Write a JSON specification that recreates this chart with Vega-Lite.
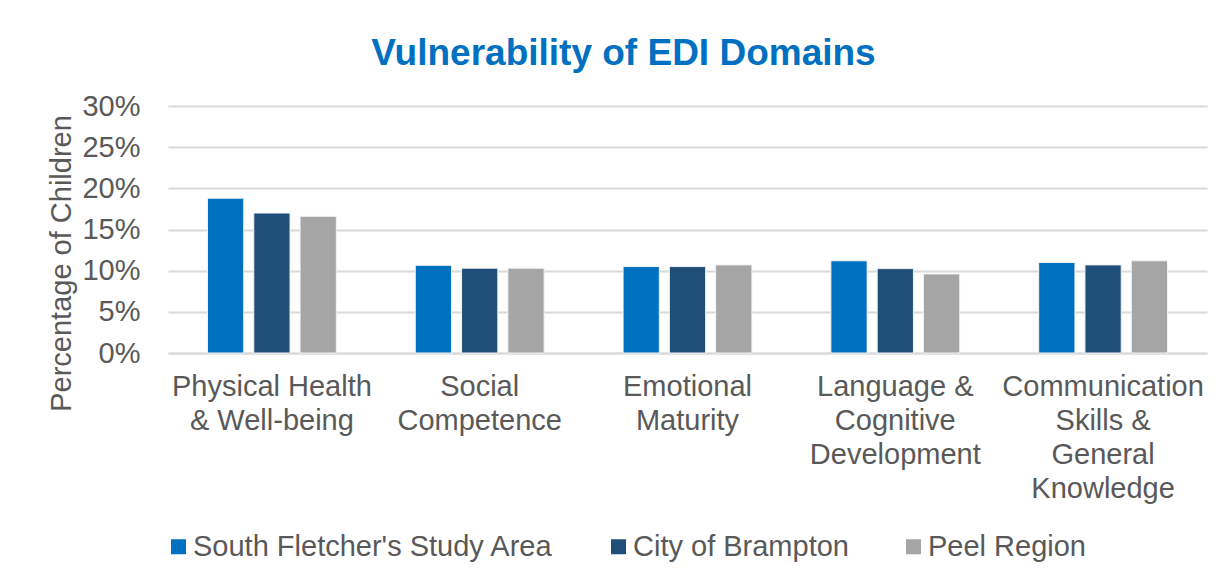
{
  "$schema": "https://vega.github.io/schema/vega-lite/v6.json",
  "width": 1039,
  "height": 247,
  "autosize": "none",
  "padding": {"left": 168, "top": 106, "right": 19, "bottom": 232},
  "background": "white",
  "title": {
    "text": "Vulnerability of EDI Domains",
    "font": "Liberation Sans",
    "fontSize": 37,
    "fontWeight": "bold",
    "color": "#0070C0",
    "anchor": "middle",
    "dx": -64,
    "offset": 19
  },
  "data": {
    "values": [
      {"domain": "Physical Health|& Well-being", "series": "South Fletcher's Study Area", "value": 0.188},
      {"domain": "Physical Health|& Well-being", "series": "City of Brampton", "value": 0.170},
      {"domain": "Physical Health|& Well-being", "series": "Peel Region", "value": 0.166},
      {"domain": "Social|Competence", "series": "South Fletcher's Study Area", "value": 0.1065},
      {"domain": "Social|Competence", "series": "City of Brampton", "value": 0.103},
      {"domain": "Social|Competence", "series": "Peel Region", "value": 0.103},
      {"domain": "Emotional|Maturity", "series": "South Fletcher's Study Area", "value": 0.105},
      {"domain": "Emotional|Maturity", "series": "City of Brampton", "value": 0.105},
      {"domain": "Emotional|Maturity", "series": "Peel Region", "value": 0.107},
      {"domain": "Language &|Cognitive|Development", "series": "South Fletcher's Study Area", "value": 0.112},
      {"domain": "Language &|Cognitive|Development", "series": "City of Brampton", "value": 0.1025},
      {"domain": "Language &|Cognitive|Development", "series": "Peel Region", "value": 0.096},
      {"domain": "Communication|Skills &|General|Knowledge", "series": "South Fletcher's Study Area", "value": 0.110},
      {"domain": "Communication|Skills &|General|Knowledge", "series": "City of Brampton", "value": 0.107},
      {"domain": "Communication|Skills &|General|Knowledge", "series": "Peel Region", "value": 0.112}
    ]
  },
  "mark": {"type": "bar", "stroke": "#F2F2F2", "strokeWidth": 1},
  "encoding": {
    "x": {
      "field": "domain",
      "type": "nominal",
      "sort": null,
      "scale": {"paddingInner": 0.38, "paddingOuter": 0.19},
      "axis": {
        "title": null,
        "labelAngle": 0,
        "labelExpr": "split(datum.label, '|')",
        "labelFont": "Liberation Sans",
        "labelFontSize": 29,
        "labelColor": "#595959",
        "labelLineHeight": 34,
        "labelPadding": 19,
        "labelBaseline": "top",
        "ticks": false,
        "grid": false,
        "domainColor": "#D9D9D9",
        "domainWidth": 2,
        "labelLimit": 300
      }
    },
    "xOffset": {
      "field": "series",
      "type": "nominal",
      "sort": ["South Fletcher's Study Area", "City of Brampton", "Peel Region"],
      "scale": {"paddingInner": 0.217, "paddingOuter": 0}
    },
    "y": {
      "field": "value",
      "type": "quantitative",
      "scale": {"domain": [0, 0.3], "nice": false},
      "axis": {
        "title": "Percentage of Children",
        "titleFont": "Liberation Sans",
        "titleFontSize": 29,
        "titleFontWeight": "normal",
        "titleColor": "#595959",
        "titlePadding": 5,
        "titleY": 157,
        "format": ".0%",
        "values": [0, 0.05, 0.1, 0.15, 0.2, 0.25, 0.3],
        "labelFont": "Liberation Sans",
        "labelFontSize": 29,
        "labelColor": "#595959",
        "labelPadding": 28,
        "ticks": false,
        "domain": false,
        "gridColor": "#D9D9D9",
        "gridWidth": 2
      }
    },
    "color": {
      "field": "series",
      "type": "nominal",
      "sort": ["South Fletcher's Study Area", "City of Brampton", "Peel Region"],
      "scale": {
        "domain": ["South Fletcher's Study Area", "City of Brampton", "Peel Region"],
        "range": ["#0070C0", "#1F4E79", "#A5A5A5"]
      },
      "legend": {
        "title": null,
        "orient": "none",
        "direction": "horizontal",
        "legendX": -4,
        "legendY": 426,
        "symbolType": "square",
        "symbolSize": 225,
        "symbolStrokeWidth": 0,
        "labelFont": "Liberation Sans",
        "labelFontSize": 29,
        "labelColor": "#595959",
        "labelOffset": 0,
        "columnPadding": 50,
        "labelLimit": 500
      }
    }
  },
  "config": {"view": {"stroke": null}}
}
